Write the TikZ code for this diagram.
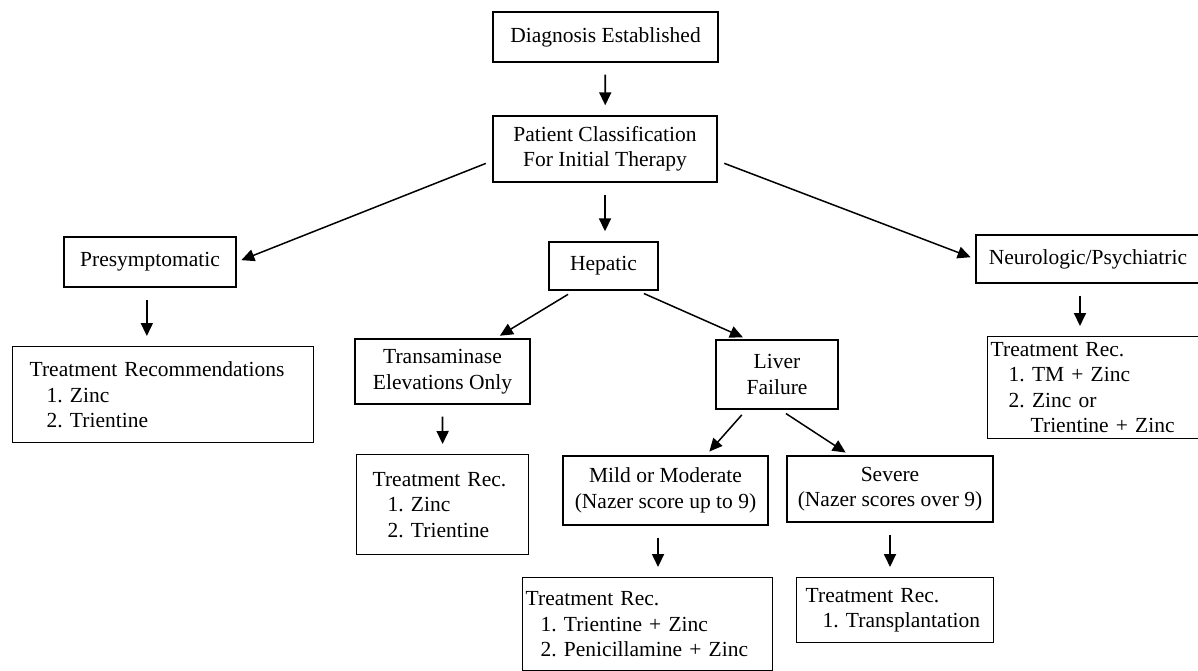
\documentclass[tikz,border=0pt]{standalone}
\usepackage{fontspec}
\setmainfont{Liberation Serif}
\frenchspacing
\usetikzlibrary{arrows.meta}
\usetikzlibrary{positioning}

\tikzset{
  box/.style={draw, line width=1.4pt, inner sep=0pt, align=center,
    font=\fontsize{21.5}{25.5}\selectfont},
  recbox/.style={box, align=left, anchor=north west},
  arr/.style={-{Triangle[length=13pt,width=12pt]}},
  vertarr/.style={arr, line width=1.8pt, shorten <=12pt, shorten >=10pt},
  diagarr/.style={arr, line width=1.5pt, shorten <=7pt, shorten >=5pt}
}

\begin{document}
\begin{tikzpicture}[x=1pt,y=-1pt]
\useasboundingbox (0,0) rectangle (1198,671);

% top of the tree
\node[box, minimum width=225pt, minimum height=50pt] (diag) at (605.5,37) {Diagnosis Established};
\node[box, minimum width=224pt, minimum height=66pt] (pcls) at (605,149) {Patient Classification\\For Initial Therapy};

% three classes
\node[box, minimum width=172pt, minimum height=50pt] (presym) at (150,262) {Presymptomatic};
\node[box, minimum width=109pt, minimum height=48pt] (hep) at (603.5,266) {Hepatic};
\node[box, minimum width=224pt, minimum height=48pt] (neuro) at (1088,259) {Neurologic/Psychiatric};

% hepatic branch
\node[box, minimum width=175pt, minimum height=65pt] (trans) at (442.5,371.5) {Transaminase\\Elevations Only};
\node[box, minimum width=122pt, minimum height=69pt] (liver) at (777,374.5) {Liver\\Failure};
\node[box, minimum width=205pt, minimum height=69pt] (mild) at (665.5,490.5) {Mild or Moderate\\(Nazer score up to 9)};
\node[box, minimum width=206pt, minimum height=66pt] (severe) at (890,489) {Severe\\(Nazer scores over 9)};

% treatment boxes
\node[recbox, inner xsep=17pt, text width=267pt, minimum height=96pt] (recpre) at (12,346)
  {Treatment Recommendations\\\hspace*{17pt}1. Zinc\\\hspace*{17pt}2. Trientine};
\node[recbox, inner xsep=16pt, text width=140pt, minimum height=100pt] (rectrans) at (356,454)
  {Treatment Rec.\\\hspace*{15pt}1. Zinc\\\hspace*{15pt}2. Trientine};
\node[recbox, inner xsep=3pt, text width=244pt, minimum height=93pt] (recmild) at (522,577)
  {Treatment Rec.\\\hspace*{15pt}1. Trientine + Zinc\\\hspace*{15pt}2. Penicillamine + Zinc};
\node[recbox, inner xsep=9pt, text width=179pt, minimum height=65pt] (recsev) at (796,577)
  {Treatment Rec.\\\hspace*{17pt}1.~Transplantation};
\node[recbox, inner xsep=3pt, text width=207pt, minimum height=102pt] (recneuro) at (987,336)
  {Treatment Rec.\\\hspace*{18pt}1. TM + Zinc\\\hspace*{18pt}2. Zinc or\\\hspace*{40pt}Trientine + Zinc};

% arrows
\draw[vertarr] (diag) -- (pcls);
\draw[vertarr] (pcls.south) -- (pcls.south |- hep.north);
\draw[diagarr] (pcls.186) -- (presym.east);
\draw[diagarr] (pcls.-6) -- (neuro.west);
\draw[vertarr] (presym.263) -- (presym.263 |- recpre.north);
\draw[diagarr] (hep.220) -- (trans.32);
\draw[diagarr] (hep.-36) -- (liver.130);
\draw[vertarr] (trans) -- (rectrans);
\draw[diagarr] (liver.229) -- (mild.41);
\draw[diagarr] (liver.-85) -- (severe.140);
\draw[vertarr] (mild.258) -- (mild.258 |- recmild.north);
\draw[vertarr] (severe.south) -- (severe.south |- recsev.north);
\draw[vertarr] (neuro.252) -- (neuro.252 |- recneuro.north);
\end{tikzpicture}
\end{document}
